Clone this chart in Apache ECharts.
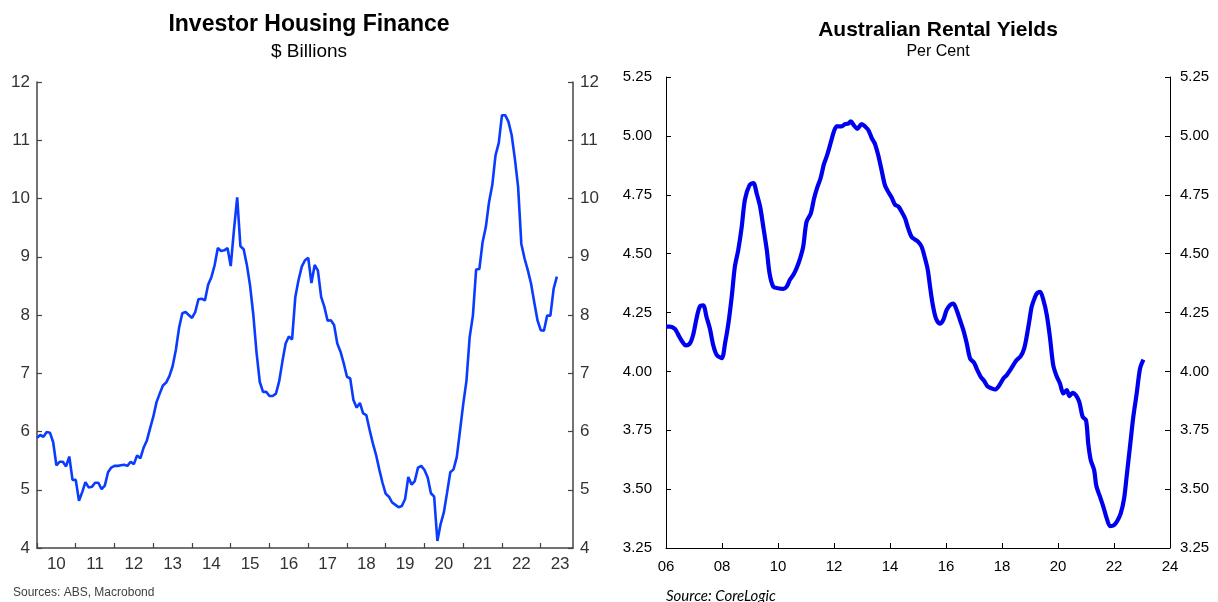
<!DOCTYPE html>
<html>
<head>
<meta charset="utf-8">
<script src="https://cdn.jsdelivr.net/npm/echarts@6/dist/echarts.min.js"></script>
<style>
html,body{margin:0;padding:0;background:#fff;}
#c{width:1218px;height:602px;}
</style>
</head>
<body>
<div id="c"></div>
<script>
// ---- Left chart: Investor Housing Finance ($ billions), monthly from Jan 2010 ----
var investYears = ['10','11','12','13','14','15','16','17','18','19','20','21','22','23'];
var invest2010 = [5.89,5.94,5.91,5.99,5.98,5.82,5.42,5.48,5.48,5.40,5.57,5.17];
var invest2011 = [5.17,4.81,4.96,5.13,5.04,5.05,5.12,5.12,5.01,5.07,5.30,5.38];
var invest2012 = [5.41,5.41,5.42,5.43,5.41,5.48,5.44,5.59,5.54,5.72,5.84,6.05];
var invest2013 = [6.25,6.50,6.65,6.79,6.84,6.95,7.12,7.40,7.78,8.03,8.05,8.00];
var invest2014 = [7.95,8.05,8.27,8.28,8.25,8.52,8.65,8.85,9.15,9.10,9.11,9.15];
var invest2015 = [8.84,9.46,10.02,9.18,9.13,8.86,8.50,8.00,7.35,6.85,6.68,6.68];
var invest2016 = [6.61,6.61,6.65,6.86,7.20,7.51,7.63,7.58,8.31,8.60,8.83,8.94];
var invest2017 = [8.98,8.55,8.86,8.76,8.31,8.14,7.90,7.91,7.83,7.51,7.37,7.17];
var invest2018 = [6.94,6.91,6.54,6.41,6.49,6.31,6.28,6.03,5.80,5.60,5.35,5.12];
var invest2019 = [4.93,4.88,4.78,4.74,4.70,4.72,4.84,5.22,5.09,5.15,5.38,5.41];
var invest2020 = [5.34,5.21,4.94,4.88,4.12,4.41,4.61,4.95,5.30,5.35,5.56,6.01];
var invest2021 = [6.47,6.87,7.62,7.99,8.78,8.79,9.25,9.51,9.94,10.23,10.74,10.95];
var invest2022 = [11.43,11.43,11.32,11.09,10.68,10.20,9.22,8.97,8.77,8.54,8.22,7.91];
var invest2023 = [7.74,7.73,7.99,7.99,8.45,8.66];
var investTicks = [4,5,6,7,8,9,10,11,12];

// ---- Right chart: Australian Rental Yields (per cent) ----
var yieldDates = [2006.00,2006.14,2006.32,2006.44,2006.56,2006.71,2006.86,2006.98,2007.10,2007.21,2007.33,2007.45,2007.57,2007.69,2007.81,2007.99,
  2008.11,2008.23,2008.35,2008.46,2008.58,2008.70,2008.82,2008.98,2009.12,2009.24,2009.36,2009.48,2009.60,2009.70,2009.83,
  2010.00,2010.19,2010.31,2010.43,2010.55,2010.67,2010.79,2010.90,2011.02,2011.17,2011.29,2011.40,2011.52,2011.64,2011.76,2011.88,
  2012.00,2012.10,2012.27,2012.39,2012.51,2012.60,2012.71,2012.83,2012.99,2013.11,2013.23,2013.35,2013.46,2013.58,2013.70,2013.82,2013.94,
  2014.06,2014.18,2014.30,2014.42,2014.54,2014.65,2014.77,2014.89,2015.01,2015.13,2015.25,2015.35,2015.43,2015.52,2015.64,2015.78,2015.90,
  2016.02,2016.14,2016.26,2016.38,2016.50,2016.62,2016.74,2016.86,2017.00,2017.12,2017.24,2017.36,2017.48,2017.63,2017.75,2017.87,
  2018.05,2018.17,2018.29,2018.40,2018.52,2018.67,2018.79,2018.88,2018.98,2019.06,2019.18,2019.26,2019.36,2019.48,2019.60,2019.71,2019.83,2019.95,
  2020.07,2020.19,2020.31,2020.41,2020.52,2020.64,2020.76,2020.88,2021.00,2021.08,2021.17,2021.29,2021.37,2021.50,2021.62,2021.74,2021.86,
  2022.00,2022.12,2022.24,2022.36,2022.45,2022.57,2022.69,2022.81,2022.93,2023.05];
var yieldValues = [4.19,4.19,4.18,4.155,4.13,4.11,4.12,4.16,4.23,4.275,4.28,4.23,4.18,4.11,4.07,4.056,
  4.12,4.205,4.32,4.445,4.515,4.61,4.73,4.79,4.80,4.755,4.70,4.61,4.515,4.415,4.36,
  4.353,4.35,4.36,4.39,4.41,4.44,4.48,4.53,4.635,4.67,4.735,4.78,4.82,4.88,4.92,4.97,
  5.02,5.04,5.04,5.05,5.052,5.062,5.045,5.03,5.05,5.04,5.024,4.99,4.967,4.918,4.854,4.79,4.762,
  4.738,4.708,4.70,4.677,4.649,4.607,4.571,4.56,4.55,4.529,4.48,4.43,4.36,4.288,4.225,4.203,4.218,
  4.26,4.281,4.288,4.26,4.218,4.175,4.119,4.055,4.037,4.005,3.977,3.96,3.937,3.928,3.923,3.935,
  3.97,3.984,4.005,4.026,4.048,4.065,4.097,4.147,4.217,4.274,4.316,4.333,4.338,4.302,4.239,4.147,4.026,3.98,
  3.949,3.906,3.92,3.895,3.909,3.899,3.871,3.807,3.793,3.694,3.623,3.581,3.513,3.468,3.425,3.376,3.343,
  3.347,3.366,3.397,3.46,3.552,3.68,3.807,3.906,4.012,4.05];
var yieldYearTicks = ['06','08','10','12','14','16','18','20','22','24'];

// ---- build ----
var investValues = [].concat(invest2010,invest2011,invest2012,invest2013,invest2014,invest2015,invest2016,
  invest2017,invest2018,invest2019,invest2020,invest2021,invest2022,invest2023);
var months = [];
investYears.forEach(function(y){ for (var m=1;m<=12;m++){ months.push('20'+y+'-'+(m<10?'0':'')+m); } });
months = months.slice(0, 167); // axis runs Jan 2010 .. Nov 2023
var yieldData = yieldDates.map(function(d,i){ return [d, yieldValues[i]]; });

var FONT = 'Liberation Sans, Arial, sans-serif';
var leftAxisColor = '#444';
var chart = echarts.init(document.getElementById('c'), null, {renderer:'canvas'});

function leftY(pos){
  return {
    type:'value', gridIndex:0, position:pos, min:investTicks[0], max:investTicks[investTicks.length-1], interval:1,
    axisLine:{show:true, lineStyle:{color:leftAxisColor, width:1.5}},
    axisTick:{show:true, inside:true, length:5, lineStyle:{color:leftAxisColor, width:1.2}},
    axisLabel:{show:true, color:'#333', fontSize:17, fontFamily:FONT, margin:7},
    splitLine:{show:false}
  };
}
function rightY(pos){
  return {
    type:'value', gridIndex:1, position:pos, min:3.25, max:5.25, interval:0.25,
    axisLine:{show:true, lineStyle:{color:'#000', width:1}},
    axisTick:{show:true, inside:true, length:5, lineStyle:{color:'#000', width:1}},
    axisLabel:{show:true, color:'#000', fontSize:15, fontFamily:FONT, margin: pos==='left'?14:10,
      formatter:function(v){ return v.toFixed(2); }},
    splitLine:{show:false}
  };
}

chart.setOption({
  animation:false,
  backgroundColor:'#fff',
  title:[
    {text:'Investor Housing Finance', left:304, top:8, textAlign:'center',
      textStyle:{fontFamily:FONT, fontSize:23, fontWeight:'bold', color:'#000'}},
    {text:'$ Billions', left:304, top:37, textAlign:'center',
      textStyle:{fontFamily:FONT, fontSize:19, fontWeight:'normal', color:'#000'}},
    {text:'Australian Rental Yields', left:933, top:15, textAlign:'center',
      textStyle:{fontFamily:FONT, fontSize:21, fontWeight:'bold', color:'#000'}},
    {text:'Per Cent', left:933, top:39, textAlign:'center',
      textStyle:{fontFamily:FONT, fontSize:16, fontWeight:'normal', color:'#000'}},
    {text:'Sources: ABS, Macrobond', left:8, top:582,
      textStyle:{fontFamily:FONT, fontSize:12, fontWeight:'normal', color:'#404040'}},
    {text:'Source: CoreLogic', left:661, top:584,
      textStyle:{fontFamily:'Lato, Liberation Sans, sans-serif', fontSize:15, fontStyle:'italic', fontWeight:'normal', color:'#000'}}
  ],
  grid:[
    {left:37, right:645, top:82, bottom:54},
    {left:666, right:48, top:77, bottom:54}
  ],
  xAxis:[
    {type:'category', gridIndex:0, data:months, boundaryGap:false,
      axisLine:{show:true, lineStyle:{color:leftAxisColor, width:1.5}},
      axisTick:{show:true, inside:true, length:5, interval:function(i){ return i%12===0; },
        lineStyle:{color:leftAxisColor, width:1.2}},
      axisLabel:{show:true, color:'#333', fontSize:17, fontFamily:FONT, margin:8,
        interval:function(i){ return i%12===6; },
        formatter:function(v){ return v.substring(2,4); }},
      splitLine:{show:false}},
    {type:'value', gridIndex:1, min:2006, max:2024, interval:2,
      axisLine:{show:true, onZero:false, lineStyle:{color:'#000', width:1}},
      axisTick:{show:true, inside:true, length:5, lineStyle:{color:'#000', width:1}},
      axisLabel:{show:true, color:'#000', fontSize:15, fontFamily:FONT, margin:11,
        formatter:function(v){ return yieldYearTicks[Math.round((v-2006)/2)]; }},
      splitLine:{show:false}}
  ],
  yAxis:[ leftY('left'), leftY('right'), rightY('left'), rightY('right') ],
  series:[
    {type:'line', xAxisIndex:0, yAxisIndex:0, data:investValues, showSymbol:false,
      lineStyle:{color:'#0a3cff', width:2.6}, itemStyle:{color:'#0a3cff'}},
    {type:'line', xAxisIndex:1, yAxisIndex:2, data:yieldData, showSymbol:false, smooth:0.3,
      lineStyle:{color:'#0000f0', width:4.2}, itemStyle:{color:'#0000f0'}}
  ]
});
</script>
</body>
</html>
